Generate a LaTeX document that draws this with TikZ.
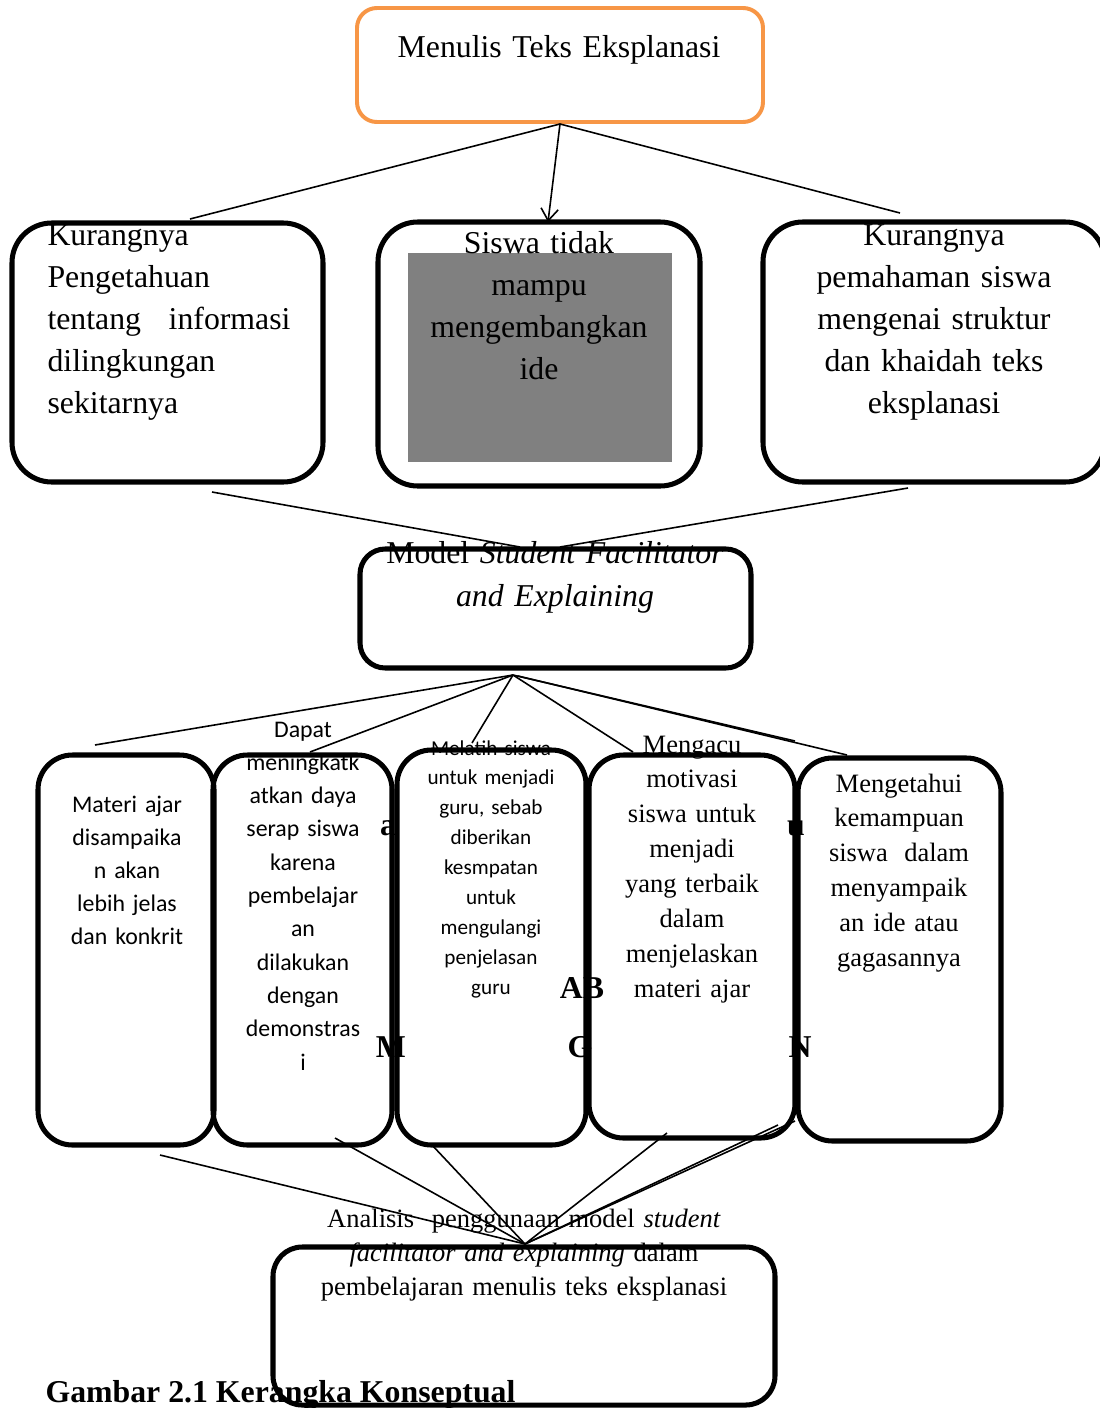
\documentclass[tikz,border=0pt]{standalone}
\usepackage{fontspec}
\setmainfont{Liberation Serif}
\newfontfamily\calibri{Carlito}
\usetikzlibrary{arrows.meta}

\newcommand{\pxu}{0.3774pt}
\definecolor{oranye}{RGB}{247,150,70}

\tikzset{
    kotak/.style={draw, line width=1.9pt, inner sep=0pt},
    ukuran/.style 2 args={minimum width=#1*\pxu, minimum height=#2*\pxu},
    teks/.style={inner sep=0pt, anchor=base, align=center, text width=440*\pxu},
    huruf/.style={inner sep=0pt, anchor=base, font=\fontsize{12}{14}\selectfont\bfseries},
}

\begin{document}
\begin{tikzpicture}[x=\pxu, y=-\pxu]
    \useasboundingbox (0,0) rectangle (1100,1408);

        % huruf lepas di bawah garis kotak
        \node[huruf] (ha) at (388,835) {a};
        \node[huruf] (hm) at (391,1057) {M};
        \node[huruf] (hab) at (582,998) {AB};
        \node[huruf] (hg) at (580,1057) {G};
        \node[huruf] (hu) at (796,835) {u};
        \node[huruf] (hn) at (800,1057) {N};

        \fill[gray] (408,253) rectangle (672,462);

        \begin{scope}[every node/.style={kotak}]
            \node[draw=oranye, line width=1.5pt, rounded corners=7.5pt, ukuran={406}{114}] (judul) at (560,65) {};

            \node[rounded corners=15pt, ukuran={311}{259}] (k1) at (167.5,352.5) {};
            \node[rounded corners=15pt, ukuran={322}{264}] (k2) at (539,354) {};
            \node[rounded corners=15pt, ukuran={342}{260}] (k3) at (934,352) {};

            \node[rounded corners=9.5pt, ukuran={391}{119}] (model) at (555.5,608.5) {};

            \node[rounded corners=13pt, ukuran={176}{390}] (m1) at (126,950) {};
            \node[rounded corners=13pt, ukuran={179}{390}] (m2) at (302.5,950) {};
            \node[rounded corners=13pt, ukuran={189}{395}] (m3) at (491.5,947.5) {};
            \node[rounded corners=13pt, ukuran={206}{383}] (m4) at (692,946.5) {};
            \node[rounded corners=13pt, ukuran={203}{383}] (m5) at (899.5,949.5) {};

            \node[rounded corners=11pt, ukuran={502}{158}] (hasil) at (524,1326) {};
        \end{scope}

        \begin{scope}[every node/.style={teks, font=\fontsize{12}{15.85}\selectfont}]
            \node (tjudul) at (559,57) {Menulis Teks Eksplanasi};
            \node[anchor=base west, align=left, text width=243*\pxu] (tk1) at (47,245)
                {Kurangnya\\ Pengetahuan\\ tentang \hfill informasi\\ dilingkungan\\ sekitarnya};
            \node (tk2) at (539,253) {Siswa tidak\\ mampu\\ mengembangkan\\ ide};
            \node (tk3) at (934,245) {Kurangnya\\ pemahaman siswa\\ mengenai struktur\\ dan khaidah teks\\ eksplanasi};
            \node[font=\fontsize{12}{16.6}\selectfont] (tmodel) at (555,563)
                {Model \textit{Student Facilitator}\\ \textit{and Explaining}};
        \end{scope}

        \begin{scope}[every node/.style={teks, font=\calibri\fontsize{9}{12.5}\selectfont}]
            \node (tm1) at (127,812) {Materi ajar\\ disampaika\\ n akan\\ lebih jelas\\ dan konkrit};
            \node[font=\calibri\fontsize{9}{12.57}\selectfont] (tm2) at (303,737)
                {Dapat\\ meningkatk\\ atkan daya\\ serap siswa\\ karena\\ pembelajar\\ an\\ dilakukan\\ dengan\\ demonstras\\ i};
            \node[font=\calibri\fontsize{8}{11.3}\selectfont] (tm3) at (491,755)
                {Melatih siswa\\ untuk menjadi\\ guru, sebab\\ diberikan\\ kesmpatan\\ untuk\\ mengulangi\\ penjelasan\\ guru};
        \end{scope}

        \begin{scope}[every node/.style={teks, font=\fontsize{10}{13.2}\selectfont}]
            \node (tm4) at (692,753) {Mengacu\\ motivasi\\ siswa untuk\\ menjadi\\ yang terbaik\\ dalam\\ menjelaskan\\ materi ajar};
            \node[text width=140*\pxu] (tm5) at (899,792)
                {Mengetahui\\ kemampuan\\ siswa \hfill dalam\\ menyampaik\\ an ide atau\hfill\\ gagasannya};
            \node[font=\fontsize{10}{13}\selectfont] (thasil) at (524,1227)
                {Analisis\ \ penggunaan model \textit{student}\\ \textit{facilitator and explaining} dalam\\ pembelajaran menulis teks eksplanasi};
        \end{scope}

        \node[inner sep=0pt, anchor=base west, font=\fontsize{12}{14}\selectfont\bfseries] (judulgambar) at (45,1402)
            {Gambar 2.1 Kerangka Konseptual};

        % ujung-ujung garis penghubung
        \coordinate (a1) at (190,219);
        \coordinate (a2) at (548,222);
        \coordinate (a3) at (900,213);
        \coordinate (b1) at (212,492);
        \coordinate (b2) at (908,488);
        \coordinate (b1m) at (520,547);
        \coordinate (b2m) at (560,547);
        \coordinate (pm) at (513,675);
        \coordinate (pm2) at (518,676);
        \coordinate (c1) at (95,745);
        \coordinate (c2) at (310,752);
        \coordinate (c3) at (472,743);
        \coordinate (c4) at (633,752);
        \coordinate (c5) at (795,741);
        \coordinate (c6) at (847,755);
        \coordinate (d1) at (160,1155);
        \coordinate (d2) at (335,1138);
        \coordinate (d3) at (432,1145);
        \coordinate (d4) at (667,1133);
        \coordinate (d5) at (778,1125);
        \coordinate (d6) at (795,1121);
        \coordinate (ph) at (525,1244);

        \begin{scope}[every edge/.style={draw, line width=0.6pt}]
            \path (judul.south) edge (a1);
            \path [-{Straight Barb[length=4.5pt,width=6.5pt]}] (judul.south) edge (a2);
            \path (judul.south) edge (a3);

            \path (b1) edge (b1m);
            \path (b2) edge (b2m);

            \path (pm) edge (c1) (pm) edge (c2) (pm) edge (c3) (pm) edge (c4);
            \path (pm) edge (c5) (pm2) edge (c6);

            \path (d1) edge (ph) (d2) edge (ph) (d3) edge (ph);
            \path (d4) edge (ph) (d5) edge (ph) (d6) edge (ph);
        \end{scope}

    \end{tikzpicture}
\end{document}
